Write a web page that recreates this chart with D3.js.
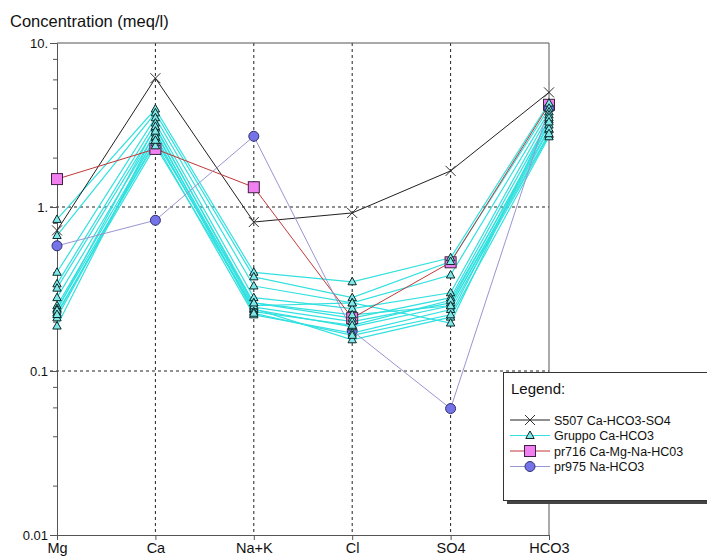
<!DOCTYPE html>
<html>
<head>
<meta charset="utf-8">
<script src="https://cdn.jsdelivr.net/npm/d3@7"></script>
<style>
  body { margin: 0; background: #fff; }
  text { font-family: "Liberation Sans", Arial, sans-serif; fill: #111; }
</style>
</head>
<body>
<div id="chart"></div>
<script>
var ions = ["Mg", "Ca", "Na+K", "Cl", "SO4", "HCO3"];
var yTicks = [0.01, 0.1, 1, 10];
var yTickLabels = ["0.01", "0.1", "1.", "10."];

var s507 = [0.72, 6.1, 0.81, 0.92, 1.66, 5.0];
var pr716 = [1.48, 2.26, 1.32, 0.21, 0.46, 4.2];
var pr975 = [0.58, 0.83, 2.7, 0.176, 0.059, 4.0];

// Gruppo Ca-HCO3 samples, one array per sample (Mg, Ca, Na+K, Cl, SO4, HCO3)
var gruppo = [
  [0.84, 3.96, 0.40, 0.35, 0.49, 4.3],
  [0.67, 3.75, 0.375, 0.28, 0.465, 4.0],
  [0.40, 3.5, 0.33, 0.26, 0.385, 3.8],
  [0.34, 3.25, 0.28, 0.24, 0.30, 3.64],
  [0.32, 3.03, 0.26, 0.21, 0.28, 3.4],
  [0.28, 2.83, 0.245, 0.20, 0.26, 3.16],
  [0.25, 2.64, 0.237, 0.186, 0.25, 2.95],
  [0.24, 2.46, 0.22, 0.17, 0.237, 2.75],
  [0.226, 2.36, 0.24, 0.155, 0.213, 2.68],
  [0.235, 3.1, 0.25, 0.26, 0.196, 3.5],
  [0.211, 2.7, 0.23, 0.19, 0.27, 3.0],
  [0.221, 2.55, 0.26, 0.22, 0.25, 2.8],
  [0.188, 2.9, 0.225, 0.165, 0.22, 3.3]
];

var series = [
  {name: "S507 Ca-HCO3-SO4", line: "#202020", fill: "none", stroke: "#303030", marker: "x"},
  {name: "Gruppo Ca-HCO3", line: "#33e0e0", fill: "#80e8e8", stroke: "#0a2a2a", marker: "tri"},
  {name: "pr716 Ca-Mg-Na-HC03", line: "#c03838", fill: "#f080f0", stroke: "#402040", marker: "sq"},
  {name: "pr975 Na-HCO3", line: "#9896d0", fill: "#7474e8", stroke: "#303070", marker: "circ"}
];

var width = 707, height = 558;
var svg = d3.select("#chart").append("svg")
  .attr("width", width)
  .attr("height", height);

var x = d3.scalePoint().domain(ions).range([57, 549]);
var y = d3.scaleLog().domain([0.01, 10]).range([535, 43]);

// minor ticks on the log axis
var minor = [];
[0.01, 0.1, 1].forEach(function(d){
  [2, 4, 6, 8].forEach(function(m){ minor.push(d * m); });
});
svg.append("g")
  .attr("transform", "translate(57,0)")
  .call(d3.axisLeft(y).tickValues(minor).tickSize(4).tickFormat(""))
  .call(function(g){ g.select(".domain").remove(); g.selectAll("line").attr("stroke", "#555"); });

// grid
svg.append("g").selectAll("line")
  .data(ions.slice(1, 5))
  .enter().append("line")
  .attr("x1", function(d){ return x(d); })
  .attr("x2", function(d){ return x(d); })
  .attr("y1", y(10))
  .attr("y2", y(0.01))
  .attr("stroke", "#222")
  .attr("stroke-dasharray", "3,3");

svg.append("g").selectAll("line")
  .data([1, 0.1])
  .enter().append("line")
  .attr("x1", 50)
  .attr("x2", x("HCO3"))
  .attr("y1", function(d){ return y(d); })
  .attr("y2", function(d){ return y(d); })
  .attr("stroke", "#222")
  .attr("stroke-dasharray", "3,3");

// frame
svg.append("line").attr("x1", x("Mg")).attr("x2", x("HCO3"))
  .attr("y1", y(10)).attr("y2", y(10)).attr("stroke", "#555");
svg.append("line").attr("x1", x("HCO3")).attr("x2", x("HCO3"))
  .attr("y1", y(10)).attr("y2", y(0.01)).attr("stroke", "#555");

var yAxis = svg.append("g")
  .attr("transform", "translate(57,0)")
  .call(d3.axisLeft(y).tickValues(yTicks).tickSize(7).tickPadding(2)
    .tickFormat(function(d, i){ return yTickLabels[i]; }));
yAxis.select(".domain").attr("stroke", "#555");
yAxis.selectAll("line").attr("stroke", "#555");
yAxis.selectAll("text").attr("font-size", "13px").attr("font-family", "Liberation Sans, Arial, sans-serif");

var xAxis = svg.append("g")
  .attr("transform", "translate(0," + y(0.01) + ")")
  .call(d3.axisBottom(x).tickSize(5).tickPadding(3));
xAxis.select(".domain").attr("stroke", "#555");
xAxis.selectAll("line").attr("stroke", "#555");
xAxis.selectAll("text").attr("font-size", "14.5px").attr("font-family", "Liberation Sans, Arial, sans-serif");

svg.append("text")
  .attr("x", 10)
  .attr("y", 27)
  .attr("font-size", "16.5px")
  .text("Concentration (meq/l)");

var line = d3.line()
  .x(function(d, i){ return x(ions[i]); })
  .y(function(d){ return y(d); });

function marker(g, type, s, cx, cy) {
  if (type === "x") {
    g.append("path")
      .attr("d", "M" + (cx - 5) + "," + (cy - 5) + "L" + (cx + 5) + "," + (cy + 5) +
                 "M" + (cx - 5) + "," + (cy + 5) + "L" + (cx + 5) + "," + (cy - 5))
      .attr("stroke", s.stroke).attr("fill", "none");
  } else if (type === "tri") {
    g.append("path")
      .attr("d", "M" + cx + "," + (cy - 4.5) + "L" + (cx + 4.2) + "," + (cy + 3) + "L" + (cx - 4.2) + "," + (cy + 3) + "Z")
      .attr("fill", s.fill).attr("stroke", s.stroke).attr("stroke-width", 1);
  } else if (type === "sq") {
    g.append("rect")
      .attr("x", cx - 5.5).attr("y", cy - 5.5).attr("width", 11).attr("height", 11)
      .attr("fill", s.fill).attr("stroke", s.stroke);
  } else {
    g.append("circle")
      .attr("cx", cx).attr("cy", cy).attr("r", 5)
      .attr("fill", s.fill).attr("stroke", s.stroke);
  }
}

// lines
var lines = svg.append("g").attr("fill", "none");
gruppo.forEach(function(d){
  lines.append("path").attr("d", line(d)).attr("stroke", series[1].line).attr("stroke-width", 1.2);
});
lines.append("path").attr("d", line(s507)).attr("stroke", series[0].line);
lines.append("path").attr("d", line(pr716)).attr("stroke", series[2].line);
lines.append("path").attr("d", line(pr975)).attr("stroke", series[3].line);

// markers
var marks = svg.append("g");
[[s507, 0], [pr716, 2], [pr975, 3]].forEach(function(p){
  p[0].forEach(function(v, i){ marker(marks, series[p[1]].marker, series[p[1]], x(ions[i]), y(v)); });
});
gruppo.forEach(function(d){
  d.forEach(function(v, i){ marker(marks, "tri", series[1], x(ions[i]), y(v)); });
});

// legend
var lg = svg.append("g").attr("transform", "translate(503,372)");
lg.append("rect").attr("x", 4).attr("y", 4).attr("width", 220).attr("height", 128).attr("fill", "#444");
lg.append("rect").attr("x", 0.5).attr("y", 0.5).attr("width", 220).attr("height", 128)
  .attr("fill", "#fff").attr("stroke", "#333");
lg.append("text").attr("x", 8).attr("y", 22).attr("font-size", "15px").text("Legend:");
series.forEach(function(s, i){
  var yy = 48 + i * 15.5;
  lg.append("line").attr("x1", 7).attr("x2", 47).attr("y1", yy).attr("y2", yy).attr("stroke", s.line);
  marker(lg, s.marker, s, 27, yy);
  lg.append("text").attr("x", 51).attr("y", yy + 4.5).attr("font-size", "12.5px").text(s.name);
});
</script>
</body>
</html>
